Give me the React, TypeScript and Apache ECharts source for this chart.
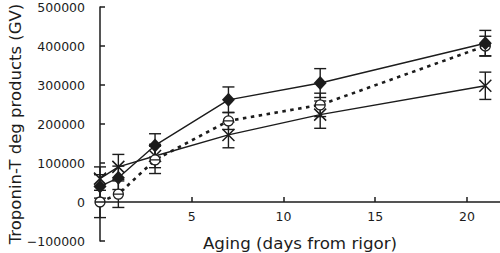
import React, { useEffect, useRef } from "react";
import * as echarts from "echarts";

const days = [0, 1, 3, 7, 12, 21];
const diamondVals = [40000, 62000, 145000, 262000, 305000, 407000];
const diamondErr = [30000, 30000, 30000, 33000, 37000, 33000];
const circleVals = [0, 20000, 108000, 208000, 249000, 400000];
const circleErr = [40000, 34000, 35000, 22000, 30000, 25000];
const crossVals = [60000, 90000, 118000, 172000, 224000, 298000];
const crossErr = [30000, 32000, 30000, 33000, 35000, 35000];
const xTicks = [5, 10, 15, 20];

const INK = "#1c1c1c";

function pts(vals: number[]) {
  return days.map((d, i) => [d, vals[i]]);
}
function errData(vals: number[], errs: number[]) {
  return days.map((d, i) => [d, vals[i] - errs[i], vals[i] + errs[i]]);
}

function errorSeries(vals: number[], errs: number[]) {
  return {
    type: "custom",
    data: errData(vals, errs),
    clip: false,
    z: 1,
    silent: true,
    renderItem: (params: any, api: any) => {
      const x = api.value(0);
      const lo = api.coord([x, api.value(1)]);
      const hi = api.coord([x, api.value(2)]);
      const w = 6;
      const style = { stroke: INK, lineWidth: 1.4 };
      return {
        type: "group",
        children: [
          { type: "line", shape: { x1: lo[0], y1: lo[1], x2: hi[0], y2: hi[1] }, style },
          { type: "line", shape: { x1: lo[0] - w, y1: lo[1], x2: lo[0] + w, y2: lo[1] }, style },
          { type: "line", shape: { x1: hi[0] - w, y1: hi[1], x2: hi[0] + w, y2: hi[1] }, style },
        ],
      };
    },
  };
}

export default function App() {
  const ref = useRef<HTMLDivElement>(null);
  useEffect(() => {
    document.body.style.margin = "0";
    const chart = echarts.init(ref.current!, null, { renderer: "svg" });
    const fam = "DejaVu Sans, sans-serif";
    chart.setOption({
      animation: false,
      backgroundColor: "#ffffff",
      grid: {
        left: 100,
        right: 0,
        top: 7,
        bottom: 12,
        containLabel: false,
        outerBounds: { left: -200, right: -200, top: -200, bottom: -200 },
      },
      xAxis: {
        type: "value",
        min: 0,
        max: 21.8,
        interval: 5,
        position: "bottom",
        offset: -39,
        name: "Aging (days from rigor)",
        nameLocation: "middle",
        nameGap: 32,
        nameTextStyle: { fontFamily: fam, fontSize: 16.7, color: INK },
        axisLine: { onZero: false, lineStyle: { color: INK, width: 1.5 } },
        axisTick: { inside: true, length: 5, customValues: xTicks, lineStyle: { color: INK, width: 1.5 } },
        axisLabel: { customValues: xTicks, fontFamily: fam, fontSize: 12.5, color: INK, margin: 8 },
        splitLine: { show: false },
      },
      yAxis: {
        type: "value",
        min: -100000,
        max: 500000,
        interval: 100000,
        axisLine: { show: true, onZero: false, lineStyle: { color: INK, width: 1.5 } },
        axisTick: { show: true, inside: true, length: 5, lineStyle: { color: INK, width: 1.5 } },
        axisLabel: {
          fontFamily: fam,
          fontSize: 12.5,
          color: INK,
          margin: 15,
          formatter: (v: number) => (v < 0 ? "\u2212" + String(-v) : String(v)),
        },
        splitLine: { show: false },
      },
      graphic: [
        {
          type: "text",
          x: 15,
          y: 124,
          rotation: Math.PI / 2,
          style: {
            text: "Troponin-T deg products (GV)",
            fontFamily: fam,
            fontSize: 16.5,
            fill: INK,
            textAlign: "center",
            textVerticalAlign: "middle",
          },
        },
      ],
      series: [
        errorSeries(crossVals, crossErr),
        errorSeries(circleVals, circleErr),
        errorSeries(diamondVals, diamondErr),
        {
          type: "line",
          data: pts(crossVals),
          z: 3,
          symbol: "path://M0,0L10,10M10,0L0,10",
          symbolSize: [12, 12],
          lineStyle: { color: INK, width: 1.4 },
          itemStyle: { color: INK, borderColor: INK, borderWidth: 1.5 },
        },
        {
          type: "line",
          data: pts(circleVals),
          z: 4,
          symbol: "path://M0,5A5,5 0 1 1 10,5A5,5 0 1 1 0,5ZM0,5L10,5",
          symbolKeepAspect: true,
          symbolSize: [10, 10],
          lineStyle: { color: INK, width: 2.6, type: [3.5, 4.5] },
          itemStyle: { color: "#ffffff", borderColor: INK, borderWidth: 1.3 },
        },
        {
          type: "line",
          data: pts(diamondVals),
          z: 5,
          symbol: "diamond",
          symbolSize: [13, 14],
          lineStyle: { color: INK, width: 1.4 },
          itemStyle: { color: INK, borderColor: INK, borderWidth: 0 },
        },
      ],
    });
    return () => chart.dispose();
  }, []);
  return <div ref={ref} style={{ width: 500, height: 253, position: "absolute", left: 0, top: 0 }} />;
}
